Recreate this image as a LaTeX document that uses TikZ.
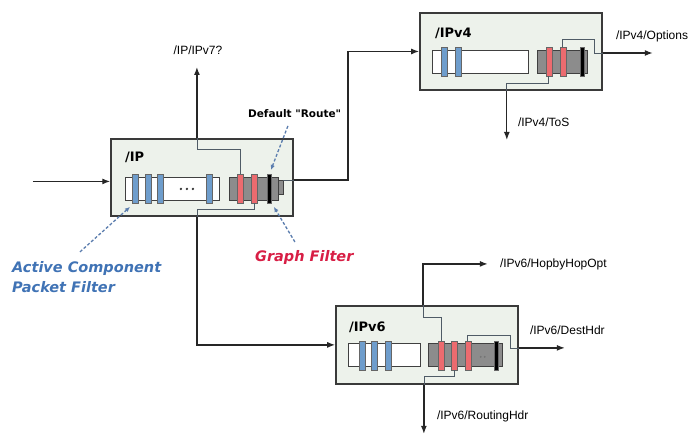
\documentclass[tikz,border=0pt]{standalone}
\usepackage{fontspec}
\setmainfont{Liberation Sans}
\newfontfamily\heavyfont{DejaVu Sans}
\usetikzlibrary{arrows.meta}

\definecolor{boxfill}{HTML}{EDF2EB}
\definecolor{boxline}{HTML}{3A3A3A}
\definecolor{ringblue}{HTML}{6E9DCC}
\definecolor{ringred}{HTML}{EC6B6F}
\definecolor{tubegray}{HTML}{8C8C8C}
\definecolor{wiregray}{HTML}{4F5B66}
\definecolor{noteblue}{HTML}{4073B5}
\definecolor{notered}{HTML}{D81E45}
\definecolor{pointblue}{HTML}{5B7DAE}

\begin{document}
\begin{tikzpicture}[x=1pt,y=-1pt,
  pbox/.style={draw=boxline,fill=boxfill,line width=1.4pt,minimum width=182pt,minimum height=77pt,inner sep=0pt},
  tube/.style={draw=black!75,fill=white,line width=0.8pt,inner sep=0pt,minimum height=23pt},
  gtube/.style={tube,fill=tubegray},
  capbox/.style={draw=black!75,fill=tubegray,line width=0.6pt,inner sep=0pt,minimum width=5pt,minimum height=14pt},
  ring/.style={draw=black!60,line width=0.6pt,inner sep=0pt,minimum width=6pt,minimum height=29pt},
  bring/.style={ring,fill=ringblue},
  rring/.style={ring,fill=ringred},
  kring/.style={ring,fill=black,minimum width=4pt},
  inwire/.style={draw=wiregray,line width=0.7pt},
  arr/.style={draw=black!85,line width=1.3pt,-{Latex[length=8pt,width=6pt]}},
  title/.style={font=\heavyfont\bfseries\fontsize{13}{15}\selectfont,anchor=west,inner sep=0pt},
  plabel/.style={font=\fontsize{12}{14}\selectfont,anchor=west,inner sep=0pt},
  note/.style={font=\heavyfont\bfseries\itshape\fontsize{14.5}{20}\selectfont,inner sep=0pt},
  pointer/.style={draw=pointblue,line width=1.3pt,dash pattern=on 3pt off 2pt,-{Latex[length=5pt,width=4.5pt]}},
  dot/.style={circle,fill=black!80,inner sep=0pt,minimum size=2.6pt},
]
% canvas
\fill[white] (0,0) rectangle (688,436);

% ---------------- /IP component ----------------
\node[pbox] (ip) at (202,177.5) {};
\node[title] (iptitle) at (125,157) {/IP};
\node[tube,minimum width=94pt] (ipwt) at (172,188.5) {};
\node[bring] (ipb1) at (135,188.5) {};
\node[bring] (ipb2) at (148,188.5) {};
\node[bring] (ipb3) at (160,188.5) {};
\node[bring] (ipb4) at (209,188.5) {};
\node[dot] (ipd1) at (181,189) {};
\node[dot] (ipd2) at (187,189) {};
\node[dot] (ipd3) at (193,189) {};
\node[capbox] (ipcap) at (280.5,187.5) {};
\node[gtube,minimum width=49pt] (ipgt) at (253.5,188.5) {};
\node[rring] (iprr1) at (240,188.5) {};
\node[rring] (iprr2) at (254,188.5) {};
\node[kring] (ipk) at (269.5,188.5) {};

% ---------------- /IPv4 component ----------------
\node[pbox] (ipv4) at (511,51.5) {};
\node[title] (v4title) at (435,33) {/IPv4};
\node[tube,minimum width=96pt] (v4wt) at (481,61.5) {};
\node[bring] (v4b1) at (444,61.5) {};
\node[bring] (v4b2) at (458,61.5) {};
\node[gtube,minimum width=50pt] (v4gt) at (563,61.5) {};
\node[rring] (v4rr1) at (549,61.5) {};
\node[rring] (v4rr2) at (563,61.5) {};
\node[kring] (v4k) at (582,61.5) {};

% ---------------- /IPv6 component ----------------
\node[pbox,minimum height=78pt] (ipv6) at (427,345) {};
\node[title] (v6title) at (349,327) {/IPv6};
\node[tube,minimum width=72pt] (v6wt) at (385,355.5) {};
\node[bring] (v6b1) at (362,355.5) {};
\node[bring] (v6b2) at (374,355.5) {};
\node[bring] (v6b3) at (388,355.5) {};
\node[gtube,minimum width=74pt] (v6gt) at (466,355.5) {};
\node[rring] (v6rr1) at (441,355.5) {};
\node[rring] (v6rr2) at (454,355.5) {};
\node[rring] (v6rr3) at (468,355.5) {};
\node[kring] (v6k) at (496,355.5) {};
\node[dot,fill=black!55,minimum size=2pt] (v6d1) at (481,357) {};
\node[dot,fill=black!55,minimum size=2pt] (v6d2) at (485,357) {};

% ---------------- connections ----------------
% incoming traffic
\coordinate (src) at (33,181.5);
\draw[arr] (src) -- (src -| ip.west);

% /IP -> /IP/IPv7?
\coordinate (v7bend) at (197,149);
\coordinate (v7tip) at (197,67);
\draw[inwire] (iprr1.north) |- (v7bend) -- (v7bend |- ip.north);
\draw[arr] (v7bend |- ip.north) -- (v7tip);
\node[plabel,anchor=center] (v7lbl) at (198,50) {/IP/IPv7?};

% /IP -> /IPv6
\coordinate (v6bend) at (197,209);
\draw[inwire] (iprr2.south) |- (v6bend) -- (v6bend |- ip.south);
\draw[arr] (v6bend |- ip.south) |- (ipv6.west);

% /IP default route -> /IPv4
\coordinate (v4corner) at (348,51.5);
\draw[inwire] (ipcap.north east) -- (ipcap.north east -| ip.east);
\draw[arr] (ipcap.north east -| ip.east) -| (v4corner) -- (ipv4.west);

% /IPv4 -> /IPv4/Options
\coordinate (optA) at (595,39);
\coordinate (optB) at (595,53);
\coordinate (opttip) at (653,53);
\draw[inwire] (v4rr2.north) |- (optA) -- (optB) -- (optB -| ipv4.east);
\draw[arr] (optB -| ipv4.east) -- (opttip);
\node[plabel] (optlbl) at (616,36) {/IPv4/Options};

% /IPv4 -> /IPv4/ToS
\coordinate (tosbend) at (507,83);
\coordinate (tostip) at (507,140);
\draw[inwire] (v4rr1.south) |- (tosbend) -- (tosbend |- ipv4.south);
\draw[arr] (tosbend |- ipv4.south) -- (tostip);
\node[plabel] (toslbl) at (518,122) {/IPv4/ToS};

% /IPv6 -> /IPv6/HopbyHopOpt
\coordinate (hopbend) at (423,317);
\coordinate (hopcorner) at (423,264);
\coordinate (hoptip) at (488,264);
\draw[inwire] (v6rr1.north) |- (hopbend) -- (hopbend |- ipv6.north);
\draw[arr] (hopbend |- ipv6.north) -- (hopcorner) -- (hoptip);
\node[plabel] (hoplbl) at (500,264) {/IPv6/HopbyHopOpt};

% /IPv6 -> /IPv6/DestHdr
\coordinate (dstA) at (511,335);
\coordinate (dstB) at (511,348);
\coordinate (dsttip) at (565,348);
\draw[inwire] (v6rr3.north) |- (dstA) -- (dstB) -- (dstB -| ipv6.east);
\draw[arr] (dstB -| ipv6.east) -- (dsttip);
\node[plabel] (dstlbl) at (530,330) {/IPv6/DestHdr};

% /IPv6 -> /IPv6/RoutingHdr
\coordinate (rtbend) at (424,376);
\coordinate (rttip) at (424,434);
\draw[inwire] (v6rr2.south) |- (rtbend) -- (rtbend |- ipv6.south);
\draw[arr] (rtbend |- ipv6.south) -- (rttip);
\node[plabel] (rtlbl) at (437,417) {/IPv6/RoutingHdr};

% ---------------- annotations ----------------
\node[note,text=noteblue,align=left,anchor=north west] (acpf) at (12,261) {Active Component\\Packet Filter};
\coordinate (acpfstart) at (80,252);
\coordinate (acpftip) at (130,207);
\draw[pointer] (acpfstart) -- (acpftip);

\node[note,text=notered,anchor=base west] (gf) at (255,262) {Graph Filter};
\coordinate (gfstart) at (295,242);
\coordinate (gftip) at (274,207);
\draw[pointer] (gfstart) -- (gftip);

\node[font=\heavyfont\bfseries\fontsize{10.5}{12}\selectfont,anchor=base west,inner sep=0pt] (dr) at (248,118) {Default "Route"};
\coordinate (drstart) at (288,126);
\coordinate (drtip) at (271,170);
\draw[pointer] (drstart) -- (drtip);
\end{tikzpicture}
\end{document}
